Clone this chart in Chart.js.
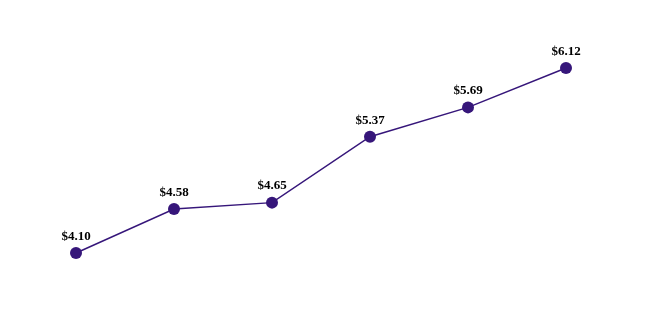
<!DOCTYPE html>
<html>
<head>
<meta charset="utf-8">
<script src="https://cdn.jsdelivr.net/npm/chart.js@4/dist/chart.umd.min.js"></script>
<style>
  html, body { margin: 0; padding: 0; background: #fff; }
  #wrap { width: 648px; height: 333px; }
</style>
</head>
<body>
<div id="wrap"><canvas id="c"></canvas></div>
<script>
const categories = ['1', '2', '3', '4', '5', '6'];
const prices = [4.10, 4.58, 4.65, 5.37, 5.69, 6.12];
const priceLabels = ['$4.10', '$4.58', '$4.65', '$5.37', '$5.69', '$6.12'];

const purple = '#36167a';

// draw the value labels above each point
const valueLabels = {
  id: 'valueLabels',
  afterDatasetsDraw(chart) {
    const ctx = chart.ctx;
    const meta = chart.getDatasetMeta(0);
    ctx.save();
    ctx.font = 'bold 13px "Liberation Serif", "Times New Roman", serif';
    ctx.fillStyle = '#000';
    ctx.textAlign = 'center';
    ctx.textBaseline = 'bottom';
    meta.data.forEach((pt, i) => {
      ctx.fillText(priceLabels[i], pt.x, pt.y - 10);
    });
    ctx.restore();
  }
};

new Chart(document.getElementById('c'), {
  type: 'line',
  data: {
    labels: categories,
    datasets: [{
      data: prices,
      borderColor: purple,
      backgroundColor: purple,
      borderWidth: 1.5,
      pointRadius: 6,
      pointHoverRadius: 6,
      pointBackgroundColor: purple,
      pointBorderWidth: 0,
      tension: 0,
      clip: false
    }]
  },
  options: {
    responsive: true,
    maintainAspectRatio: false,
    animation: false,
    layout: { autoPadding: false, padding: { left: 76, right: 82, top: 68, bottom: 80 } },
    plugins: { legend: { display: false }, tooltip: { enabled: false } },
    scales: {
      x: { display: false, offset: false },
      y: { display: false, min: 4.10, max: 6.12 }
    }
  },
  plugins: [valueLabels]
});
</script>
</body>
</html>
